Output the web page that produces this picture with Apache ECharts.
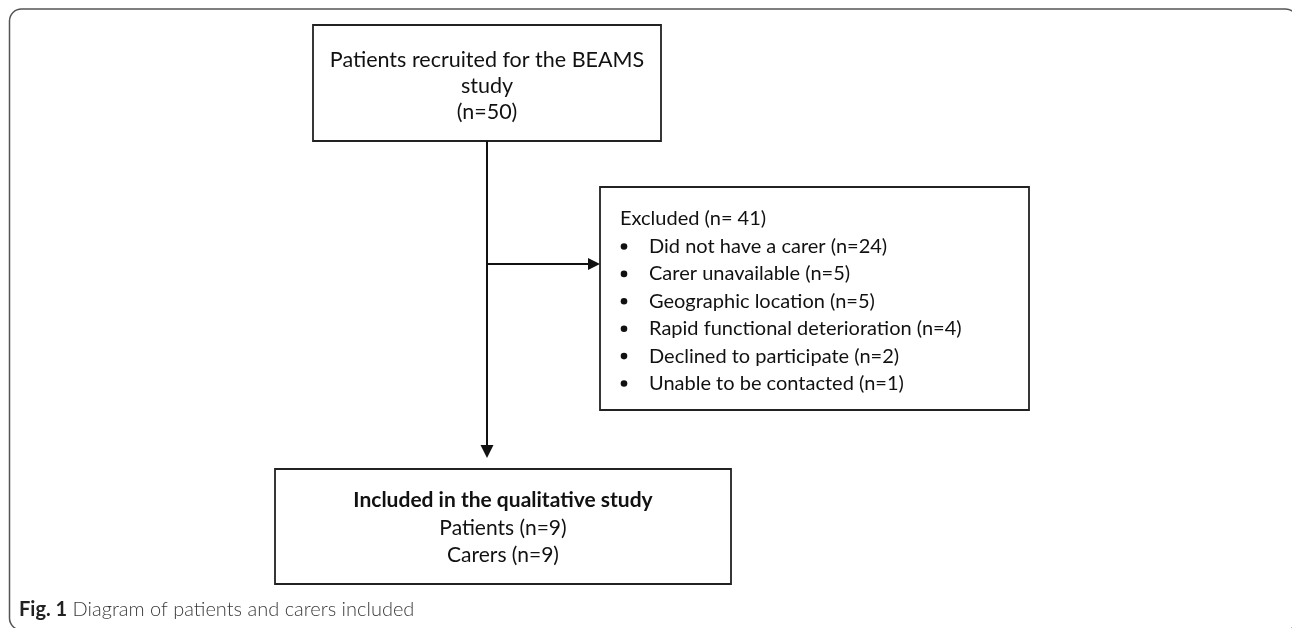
<!DOCTYPE html>
<html>
<head>
<meta charset="utf-8">
<script src="https://cdn.jsdelivr.net/npm/echarts@6/dist/echarts.min.js"></script>
<style>
    html,body{margin:0;padding:0;background:#fff;}
    #main{width:1292px;height:628px;}
</style>
</head>
<body>
<div id="main"></div>
<script>
// box texts
var topBoxLines = ['Patients recruited for the BEAMS', 'study', '(n=50)'];
var excludedTitle = 'Excluded (n= 41)';
var excludedItems = [
    'Did not have a carer (n=24)',
    'Carer unavailable (n=5)',
    'Geographic location (n=5)',
    'Rapid functional deterioration (n=4)',
    'Declined to participate (n=2)',
    'Unable to be contacted (n=1)'
];
var includedTitle = 'Included in the qualitative study';
var includedLines = ['Patients (n=9)', 'Carers (n=9)'];
var captionBold = 'Fig. 1';
var captionText = 'Diagram of patients and carers included';

var FONT = 'Lato, "Open Sans", sans-serif';
var boxStroke = '#222';

function box(x, y, w, h) {
    return {
        type: 'rect',
        shape: {x: x, y: y, width: w, height: h},
        style: {fill: '#fff', stroke: boxStroke, lineWidth: 1.8}
    };
}
function txt(s, x, y, size, align, weight) {
    return {
        type: 'text',
        x: x, y: y,
        style: {
            text: s,
            font: (weight || 'normal') + ' ' + size + 'px ' + FONT,
            fill: '#111',
            align: align || 'center',
            verticalAlign: 'middle'
        }
    };
}
function line(x1, y1, x2, y2) {
    return {
        type: 'line',
        shape: {x1: x1, y1: y1, x2: x2, y2: y2},
        style: {stroke: '#111', lineWidth: 2}
    };
}
function arrowHead(pts) {
    return {
        type: 'polygon',
        shape: {points: pts},
        style: {fill: '#111'}
    };
}

var elements = [];
// outer frame (right and bottom edges run off the picture)
elements.push({
    type: 'rect',
    shape: {x: 9.5, y: 9, width: 1288, height: 621, r: 12},
    style: {fill: 'none', stroke: '#555', lineWidth: 1.5}
});

// top box
elements.push(box(313, 25, 348, 116));
topBoxLines.forEach(function (s, i) {
    elements.push(txt(s, 487, 60 + i * 26, 21.5));
});

// connectors
elements.push(line(487, 141, 487, 447));
elements.push(arrowHead([[480.5, 445], [493.5, 445], [487, 458]]));
elements.push(line(487, 264, 590, 264));
elements.push(arrowHead([[588, 258], [588, 270], [600, 264]]));

// excluded box
elements.push(box(600, 187, 429, 223));
elements.push(txt(excludedTitle, 620, 219, 20, 'left'));
excludedItems.forEach(function (s, i) {
    var y = 246.5 + i * 27.4;
    elements.push({
        type: 'circle',
        shape: {cx: 624, cy: y, r: 3.3},
        style: {fill: '#111'}
    });
    elements.push(txt(s, 649, y, 20, 'left'));
});

// included box
elements.push(box(275, 469, 456, 115));
elements.push(txt(includedTitle, 503, 500, 21, 'center', 'bold'));
includedLines.forEach(function (s, i) {
    elements.push(txt(s, 503, 528 + i * 27.5, 21));
});

// caption
elements.push({
    type: 'text',
    x: 19, y: 610,
    style: {
        text: '{b|' + captionBold + '} ' + captionText,
        font: '300 20px ' + FONT,
        fill: '#3a3a3a',
        verticalAlign: 'middle',
        rich: {
            b: {fontWeight: 'bold', fontSize: 20, fontFamily: FONT, fill: '#222'}
        }
    }
});

var myChart = echarts.init(document.getElementById('main'), null, {renderer: 'canvas'});
myChart.setOption({
    backgroundColor: '#fff',
    animation: false,
    graphic: {elements: elements}
});
</script>
</body>
</html>
